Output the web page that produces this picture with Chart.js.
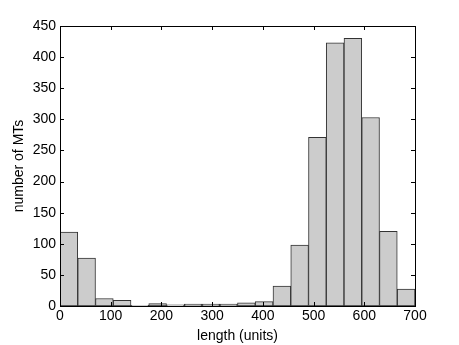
<!DOCTYPE html>
<html lang="en">
<head>
    <meta charset="UTF-8">
    <title>MT length histogram</title>
    <script src="https://cdn.jsdelivr.net/npm/chart.js"></script>
    <style>
        html, body { margin: 0; padding: 0; background: #fff; }
        canvas { display: block; }
    </style>
</head>
<body>
    <canvas id="grafico" width="459" height="345"></canvas>
    <script>
        // bin centres (length units) and counts
        const binCenters = [17.5, 52.5, 87.5, 122.5, 157.5, 192.5, 227.5, 262.5, 297.5, 332.5,
                            367.5, 402.5, 437.5, 472.5, 507.5, 542.5, 577.5, 612.5, 647.5, 682.5];
        const counts = [119, 77, 12, 9, 1, 4, 2, 3, 3, 3, 5, 7, 32, 98, 271, 423, 430, 303, 120, 27];
        const xTicks = [0, 100, 200, 300, 400, 500, 600, 700];
        const yTicks = [0, 50, 100, 150, 200, 250, 300, 350, 400, 450];

        const fuente = { family: 'Liberation Sans, Arial, sans-serif', size: 14 };

        // frame + inward ticks on all four sides
        const marco = {
            id: 'marco',
            afterDraw(chart) {
                const { ctx, chartArea: a, scales: { x, y } } = chart;
                ctx.save();
                ctx.strokeStyle = '#000';
                ctx.lineWidth = 1;
                ctx.strokeRect(Math.round(a.left) + 0.5, Math.round(a.top) + 0.5,
                    Math.round(a.right - a.left), Math.round(a.bottom - a.top));
                ctx.beginPath();
                const L = 4;
                xTicks.forEach(v => {
                    const px = Math.round(x.getPixelForValue(v)) + 0.5;
                    ctx.moveTo(px, a.bottom); ctx.lineTo(px, a.bottom - L);
                    ctx.moveTo(px, a.top); ctx.lineTo(px, a.top + L);
                });
                yTicks.forEach(v => {
                    const py = Math.round(y.getPixelForValue(v)) + 0.5;
                    ctx.moveTo(a.left, py); ctx.lineTo(a.left + L, py);
                    ctx.moveTo(a.right, py); ctx.lineTo(a.right - L, py);
                });
                ctx.stroke();
                ctx.restore();
            }
        };

        const ctx = document.getElementById('grafico').getContext('2d');
        new Chart(ctx, {
            type: 'bar',
            data: {
                datasets: [{
                    data: binCenters.map((c, i) => ({ x: c, y: counts[i] })),
                    backgroundColor: '#cccccc',
                    borderColor: '#333333',
                    borderWidth: 1,
                    borderSkipped: false,
                    barPercentage: 1,
                    categoryPercentage: 1
                }]
            },
            options: {
                responsive: false,
                animation: false,
                devicePixelRatio: 1,
                layout: { padding: { left: 0, right: 44, top: 26, bottom: 0 } },
                plugins: { legend: { display: false }, tooltip: { enabled: false } },
                scales: {
                    x: {
                        type: 'linear',
                        min: 0,
                        max: 700,
                        offset: false,
                        afterBuildTicks: s => { s.ticks = xTicks.map(v => ({ value: v })); },
                        afterFit: s => { s.height = 39; },
                        grid: { display: false, drawTicks: false },
                        border: { display: false },
                        ticks: { color: '#000', font: fuente, padding: 2, maxRotation: 0, autoSkip: false },
                        title: { display: true, text: 'length (units)', color: '#000', font: fuente, padding: { top: 0, bottom: 0 } }
                    },
                    y: {
                        min: 0,
                        max: 450,
                        afterBuildTicks: s => { s.ticks = yTicks.map(v => ({ value: v })); },
                        afterFit: s => { s.width = 60; },
                        grid: { display: false, drawTicks: false },
                        border: { display: false },
                        ticks: { color: '#000', font: fuente, padding: 4, autoSkip: false },
                        title: { display: true, text: 'number of MTs', color: '#000', font: fuente, padding: { top: 11, bottom: 4 } }
                    }
                }
            },
            plugins: [marco]
        });
    </script>
</body>
</html>
